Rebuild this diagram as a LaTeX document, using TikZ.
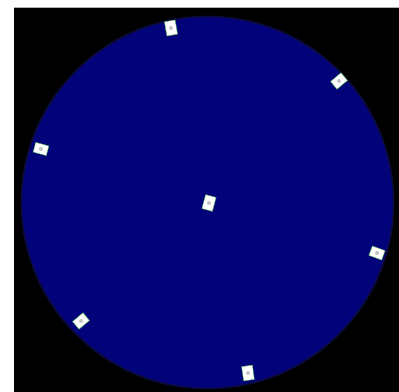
\documentclass[tikz,border=0pt]{standalone}
\usepackage{xcolor}
\usepackage{tikz}
\definecolor{discblue}{RGB}{2,2,122}
\definecolor{discrim}{RGB}{10,10,60}
\tikzset{
	disc/.style={
		circle,
		draw=discrim,
		line width=1.2pt,
		fill=discblue,
		minimum size=372*0.025cm,
		inner sep=0pt
	},
	tag/.style={
		rectangle,
		draw=green!40!gray,
		line width=0.3pt,
		fill=white,
		inner sep=0pt,
		minimum width=0.34cm,
		minimum height=0.25cm,
		path picture={\fill[gray!45] (path picture bounding box.center) circle (0.5mm);}
	},
	tall/.style={minimum width=0.27cm,minimum height=0.36cm}
}

\begin{document}
\begin{tikzpicture}[x=0.025cm,y=0.025cm]
		\useasboundingbox (0,0) rectangle (399,392);
		\fill[black] (14,0) rectangle (399,385);
		\draw[gray!60,line width=0.6pt] (14,385) -- (399,385);

		\node[disc] (plate) at (207.5,189.5) {};

		\node[tag,tall,rotate=10]  (t1) at (171,364) {};
		\node[tag,rotate=40]       (t2) at (339,311) {};
		\node[tag,rotate=-15]      (t3) at (41,243) {};
		\node[tag,tall,rotate=-15] (t4) at (209,189) {};
		\node[tag,rotate=-20]      (t5) at (377,139) {};
		\node[tag,rotate=40]       (t6) at (81,71) {};
		\node[tag,tall,rotate=8]   (t7) at (248,19) {};
	\end{tikzpicture}
\end{document}
